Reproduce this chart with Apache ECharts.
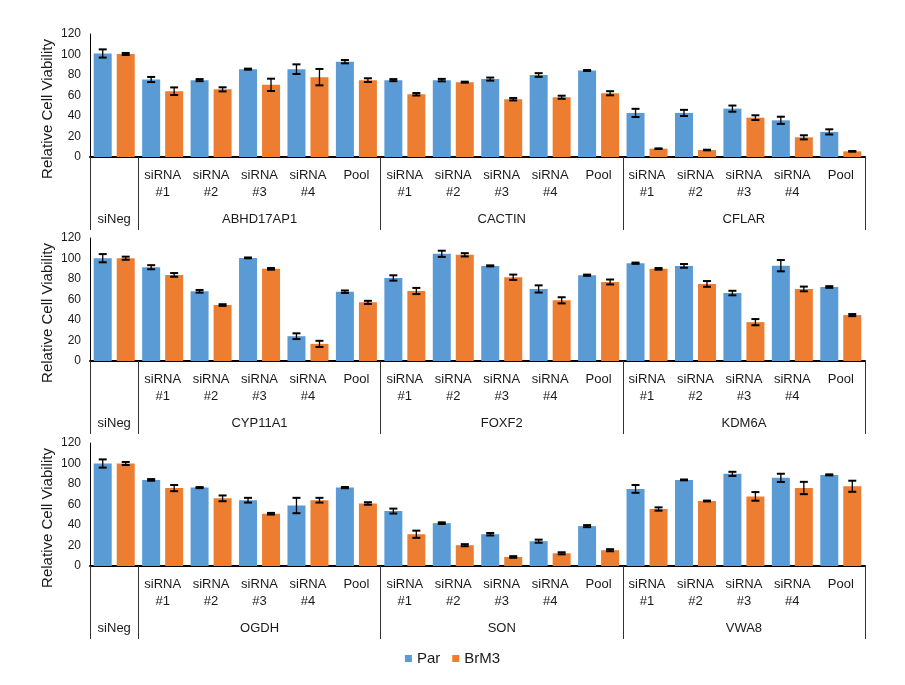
<!DOCTYPE html>
<html>
<head>
<meta charset="utf-8">
<script src="https://cdn.jsdelivr.net/npm/echarts@6/dist/echarts.min.js"></script>
<style>html,body{margin:0;padding:0;background:#fff;}#c{width:905px;height:685px;}</style>
</head>
<body>
<div id="c"></div>
<script>
// ---- data ----
const subLabels = ['', 'siRNA\n#1', 'siRNA\n#2', 'siRNA\n#3', 'siRNA\n#4', 'Pool',
  'siRNA\n#1', 'siRNA\n#2', 'siRNA\n#3', 'siRNA\n#4', 'Pool',
  'siRNA\n#1', 'siRNA\n#2', 'siRNA\n#3', 'siRNA\n#4', 'Pool'];
const groups1 = ['siNeg', 'ABHD17AP1', 'CACTIN', 'CFLAR'];
const groups2 = ['siNeg', 'CYP11A1', 'FOXF2', 'KDM6A'];
const groups3 = ['siNeg', 'OGDH', 'SON', 'VWA8'];
const seriesNames = ['Par', 'BrM3'];
const yTicks = [0, 20, 40, 60, 80, 100, 120];

const par1 = [101, 75.6, 75, 85.7, 85.7, 93, 75, 75, 76, 80, 84.4, 43, 43, 47.2, 35.8, 24.5];
const par1Err = [4, 2.5, 1, 0.5, 4.7, 1.6, 1, 1.2, 1.5, 1.8, 0.5, 4, 3, 3, 3.5, 2.5];
const brm1 = [100.5, 64.2, 66, 70.4, 77.9, 75, 61.2, 73, 56.4, 58.3, 62.2, 8.1, 6.8, 38.4, 19.2, 5.5];
const brm1Err = [1, 3.7, 2, 6, 8, 1.8, 1.2, 0.5, 1.2, 1.5, 2, 0.3, 0.3, 2.3, 2, 0.3];

const par2 = [100.3, 91.5, 68, 100.6, 24.2, 67.6, 81, 104.6, 92.8, 70.3, 83.7, 95.4, 92.8, 66.3, 93, 72.2];
const par2Err = [4, 2, 1.3, 0.4, 2.8, 1.2, 2.6, 3, 0.5, 3.5, 0.6, 0.6, 1.8, 2.2, 5.5, 0.8];
const brm2 = [100.3, 84, 54.6, 89.9, 16.7, 57.2, 68.3, 103.6, 81.7, 59.2, 77.1, 89.9, 75.2, 37.9, 70.3, 44.8];
const brm2Err = [1.5, 1.8, 0.8, 0.8, 3, 1.5, 3, 1.6, 2.6, 3, 2.4, 0.8, 2.8, 3, 2.3, 1];

const par3 = [100, 84, 76.5, 64.2, 59, 76.5, 53.6, 41.8, 31, 24.2, 38.9, 75.2, 84, 89.9, 86, 88.9];
const par3Err = [4, 0.8, 0.5, 2.3, 7.5, 0.6, 2.4, 0.8, 1.2, 1.5, 1, 3.8, 0.4, 2, 4, 0.5];
const brm3 = [100, 76, 66, 51, 64.2, 61, 31, 20.3, 8.8, 12.4, 15.4, 55.6, 63.4, 67.9, 76.1, 77.8];
const brm3Err = [1.5, 3, 2.8, 0.8, 2.3, 1.2, 3.5, 1, 0.8, 1, 1, 1.6, 0.4, 4.2, 6, 5.4];

const panels = [
  {groups: groups1, par: par1, parErr: par1Err, brm: brm1, brmErr: brm1Err},
  {groups: groups2, par: par2, parErr: par2Err, brm: brm2, brmErr: brm2Err},
  {groups: groups3, par: par3, parErr: par3Err, brm: brm3, brmErr: brm3Err}
];

// ---- styling / layout ----
const FONT = 'Liberation Sans, Arial, sans-serif';
const TXT = '#1a1a1a';
const COLORS = ['#5B9BD5', '#ED7D31'];
const gridTops = [34, 238, 443];
const GRID_H = 123;
const BAR_W = 18, BAR_GAP = 5;

function groupAxisLabels(groups) {
  // group label sits at the middle category of each group
  const arr = new Array(16).fill('');
  arr[0] = groups[0];
  arr[3] = groups[1];
  arr[8] = groups[2];
  arr[13] = groups[3];
  return arr;
}

function errRenderer(sign) {
  return function (params, api) {
    const x = api.value(0), v = api.value(1), e = api.value(2);
    const top = api.coord([x, v + e]);
    const bot = api.coord([x, v - e]);
    const cx = top[0] + sign * (BAR_W + BAR_GAP) / 2;
    const hw = 4;
    const st = {stroke: '#000', lineWidth: 1.3};
    const cap = {stroke: '#000', lineWidth: 2};
    return {type: 'group', children: [
      {type: 'line', shape: {x1: cx, y1: top[1], x2: cx, y2: bot[1]}, style: st},
      {type: 'line', shape: {x1: cx - hw, y1: top[1], x2: cx + hw, y2: top[1]}, style: cap},
      {type: 'line', shape: {x1: cx - hw, y1: bot[1], x2: cx + hw, y2: bot[1]}, style: cap}
    ]};
  };
}

const grid = [], xAxis = [], yAxis = [], series = [], graphic = [];
panels.forEach((p, i) => {
  grid.push({left: 90, right: 40, top: gridTops[i], height: GRID_H});
  // sub-category axis
  xAxis.push({
    type: 'category', gridIndex: i, data: subLabels, position: 'bottom',
    axisLine: {show: true, lineStyle: {color: '#000', width: 2}},
    axisTick: {show: false},
    axisLabel: {interval: 0, fontFamily: FONT, fontSize: 13, lineHeight: 17, color: TXT, margin: 10}
  });
  // group axis (labels + separators)
  xAxis.push({
    type: 'category', gridIndex: i, data: groupAxisLabels(p.groups), position: 'bottom',
    min: 0, max: 15,
    axisLine: {show: false},
    axisTick: {show: true, length: 73, lineStyle: {color: '#333', width: 1},
      interval: function (idx) { return idx === 0 || idx === 1 || idx === 6 || idx === 11; }},
    axisLabel: {interval: 0, fontFamily: FONT, fontSize: 13, color: TXT, margin: 56}
  });
  yAxis.push({
    type: 'value', gridIndex: i, min: yTicks[0], max: yTicks[yTicks.length - 1], interval: 20,
    axisLine: {show: true, lineStyle: {color: '#000', width: 1}},
    axisTick: {show: false},
    splitLine: {show: false},
    axisLabel: {fontFamily: FONT, fontSize: 12, color: TXT, margin: 9}
  });
  const xi = i * 2;
  series.push({
    name: seriesNames[0], type: 'bar', xAxisIndex: xi, yAxisIndex: i,
    data: p.par, barWidth: BAR_W, barGap: (BAR_GAP / BAR_W * 100) + '%',
    itemStyle: {color: COLORS[0]}, z: 2
  });
  series.push({
    name: seriesNames[1], type: 'bar', xAxisIndex: xi, yAxisIndex: i,
    data: p.brm, barWidth: BAR_W,
    itemStyle: {color: COLORS[1]}, z: 2
  });
  series.push({
    type: 'custom', xAxisIndex: xi, yAxisIndex: i, z: 5,
    renderItem: errRenderer(-1), encode: {x: 0, y: 1},
    data: p.par.map((v, k) => [k, v, p.parErr[k]]), silent: true
  });
  series.push({
    type: 'custom', xAxisIndex: xi, yAxisIndex: i, z: 5,
    renderItem: errRenderer(1), encode: {x: 0, y: 1},
    data: p.brm.map((v, k) => [k, v, p.brmErr[k]]), silent: true
  });
  graphic.push({
    type: 'text', x: 48, y: gridTops[i] + 75, rotation: Math.PI / 2,
    style: {text: 'Relative Cell Viability', fontFamily: FONT, fontSize: 15, fill: TXT,
      align: 'center', verticalAlign: 'middle'}
  });
});

const chart = echarts.init(document.getElementById('c'), null, {renderer: 'canvas'});
chart.setOption({
  animation: false,
  backgroundColor: '#fff',
  grid, xAxis, yAxis, series, graphic,
  legend: {
    data: seriesNames, bottom: 14, left: 'center', icon: 'rect',
    itemWidth: 7, itemHeight: 7, itemGap: 12,
    textStyle: {fontFamily: FONT, fontSize: 15, color: TXT}
  }
});
</script>
</body>
</html>
